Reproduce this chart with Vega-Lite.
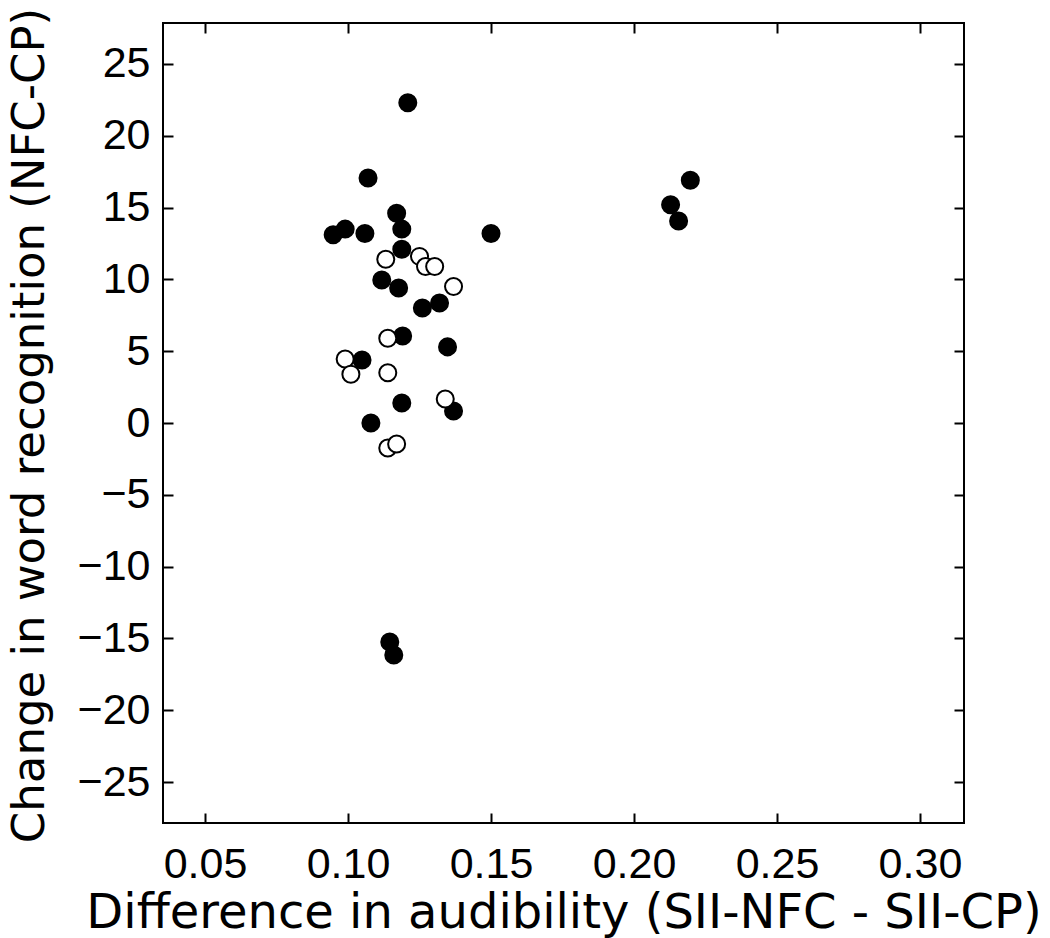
{
  "$schema": "https://vega.github.io/schema/vega-lite/v6.json",
  "width": 801,
  "height": 800,
  "autosize": {"type": "none"},
  "padding": {"left": 163, "top": 23, "right": 86, "bottom": 115},
  "background": "white",
  "config": {
    "view": {"stroke": "black", "strokeWidth": 2},
    "font": "DejaVu Sans",
    "axis": {
      "grid": false,
      "domain": false,
      "tickColor": "black",
      "tickWidth": 2,
      "tickSize": -10,
      "labelFont": "Liberation Sans",
      "labelFontSize": 43,
      "labelColor": "black",
      "titleFont": "DejaVu Sans",
      "titleFontSize": 45,
      "titleFontWeight": "normal",
      "titleColor": "black"
    }
  },
  "data": {
    "values": [
      {"audibility": 0.1209, "change": 22.3, "group": "filled"},
      {"audibility": 0.107, "change": 17.06, "group": "filled"},
      {"audibility": 0.117, "change": 14.6, "group": "filled"},
      {"audibility": 0.0948, "change": 13.1, "group": "filled"},
      {"audibility": 0.099, "change": 13.5, "group": "filled"},
      {"audibility": 0.1059, "change": 13.2, "group": "filled"},
      {"audibility": 0.1188, "change": 13.5, "group": "filled"},
      {"audibility": 0.150, "change": 13.2, "group": "filled"},
      {"audibility": 0.1188, "change": 12.1, "group": "filled"},
      {"audibility": 0.1118, "change": 9.96, "group": "filled"},
      {"audibility": 0.1177, "change": 9.4, "group": "filled"},
      {"audibility": 0.126, "change": 8.0, "group": "filled"},
      {"audibility": 0.132, "change": 8.36, "group": "filled"},
      {"audibility": 0.1191, "change": 6.06, "group": "filled"},
      {"audibility": 0.1348, "change": 5.3, "group": "filled"},
      {"audibility": 0.1049, "change": 4.39, "group": "filled"},
      {"audibility": 0.1188, "change": 1.39, "group": "filled"},
      {"audibility": 0.1369, "change": 0.84, "group": "filled"},
      {"audibility": 0.108, "change": 0.0, "group": "filled"},
      {"audibility": 0.2197, "change": 16.9, "group": "filled"},
      {"audibility": 0.2128, "change": 15.2, "group": "filled"},
      {"audibility": 0.2156, "change": 14.07, "group": "filled"},
      {"audibility": 0.1146, "change": -15.25, "group": "filled"},
      {"audibility": 0.116, "change": -16.16, "group": "filled"},
      {"audibility": 0.1132, "change": 11.4, "group": "open"},
      {"audibility": 0.125, "change": 11.6, "group": "open"},
      {"audibility": 0.1271, "change": 10.9, "group": "open"},
      {"audibility": 0.1303, "change": 10.9, "group": "open"},
      {"audibility": 0.1369, "change": 9.5, "group": "open"},
      {"audibility": 0.1139, "change": 5.9, "group": "open"},
      {"audibility": 0.099, "change": 4.46, "group": "open"},
      {"audibility": 0.101, "change": 3.4, "group": "open"},
      {"audibility": 0.1139, "change": 3.5, "group": "open"},
      {"audibility": 0.134, "change": 1.67, "group": "open"},
      {"audibility": 0.1139, "change": -1.74, "group": "open"},
      {"audibility": 0.117, "change": -1.46, "group": "open"}
    ]
  },
  "layer": [
    {
      "mark": {"type": "point", "shape": "circle", "size": 290, "stroke": "black", "strokeWidth": 2, "opacity": 1, "filled": false},
      "encoding": {
        "x": {
          "field": "audibility", "type": "quantitative",
          "scale": {"domain": [0.0353, 0.3154], "nice": false, "zero": false},
          "axis": {"orient": "bottom", "values": [0.05, 0.10, 0.15, 0.20, 0.25, 0.30], "format": ".2f", "labelPadding": 30, "titleY": 104, "titleFontSize": 48, "titleBaseline": "alphabetic", "title": "Difference in audibility (SII-NFC - SII-CP)"}
        },
        "y": {
          "field": "change", "type": "quantitative",
          "scale": {"domain": [-27.85, 27.85], "nice": false, "zero": false},
          "axis": {"orient": "left", "values": [-25, -20, -15, -10, -5, 0, 5, 10, 15, 20, 25], "format": "d", "labelPadding": 23, "titleX": -120, "titleY": 402, "titleBaseline": "alphabetic", "title": "Change in word recognition (NFC-CP)"}
        },
        "fill": {
          "field": "group", "type": "nominal",
          "scale": {"domain": ["filled", "open"], "range": ["black", "white"]},
          "legend": null
        }
      }
    },
    {
      "mark": {"type": "point", "opacity": 0},
      "encoding": {
        "x": {
          "field": "audibility", "type": "quantitative",
          "axis": {"orient": "top", "values": [0.05, 0.10, 0.15, 0.20, 0.25, 0.30], "labels": false, "title": null}
        },
        "y": {
          "field": "change", "type": "quantitative",
          "axis": {"orient": "right", "values": [-25, -20, -15, -10, -5, 0, 5, 10, 15, 20, 25], "labels": false, "title": null}
        }
      }
    }
  ],
  "resolve": {"axis": {"x": "independent", "y": "independent"}}
}
